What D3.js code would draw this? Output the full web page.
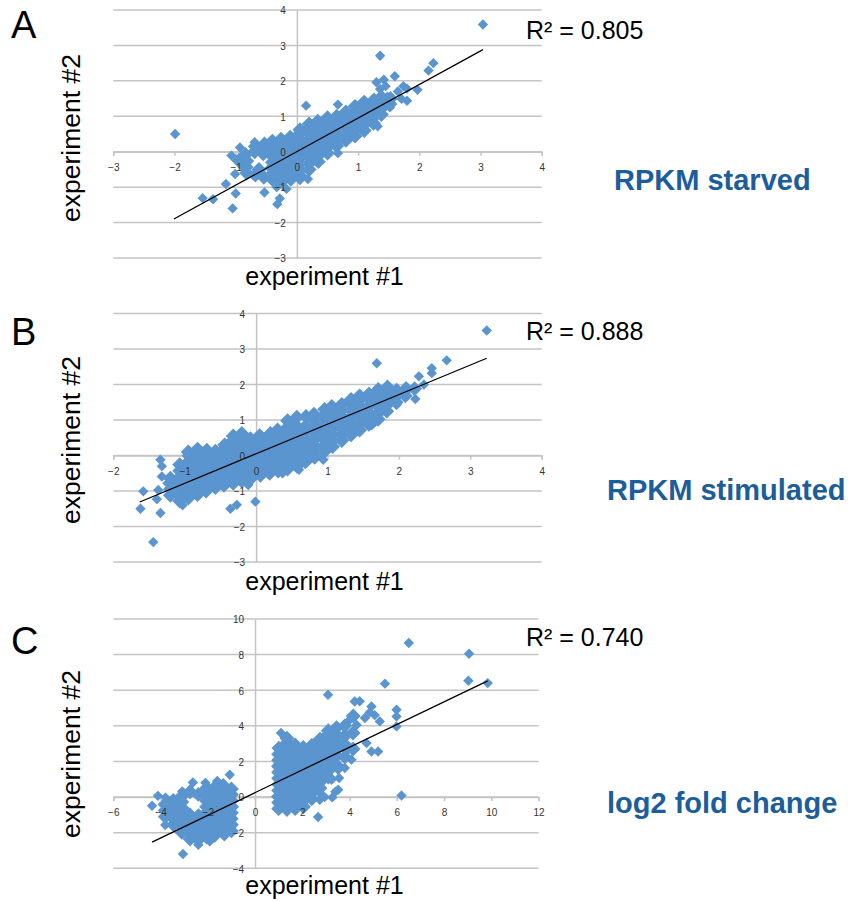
<!DOCTYPE html>
<html>
<head>
<meta charset="utf-8">
<script src="https://cdn.jsdelivr.net/npm/d3@7"></script>
<style>
body { margin: 0; background: #fff; }
svg text { font-family: "Liberation Sans", Arial, Helvetica, sans-serif; }
</style>
</head>
<body>
<script>
// values: [experiment #1, experiment #2]
// single points that stand apart
var starvedOutliers = [
  [-1.99,0.5],[-1.54,-1.31],[-1.37,-1.34],[-1.05,-1.6],[-1.0,-1.18],[-1.16,-0.91],[-0.53,-1.15],
  [-0.28,-1.32],[-0.32,-1.48],[-0.17,-1.05],[-0.33,-1.0],[-1.07,-0.11],[-0.93,0.12],[-0.69,0.27],
  [-1.01,-0.63],[-0.9,-0.4],[3.04,3.59],[1.36,2.71],[2.23,2.5],[2.15,2.29],[1.42,2.03],[1.6,2.13],
  [1.97,1.75],[1.8,1.44],[1.71,1.49],[1.74,1.85],[1.8,1.78],[1.52,1.25],[1.36,1.77],[1.38,1.6],
  [0.67,1.33],[0.15,1.3],[0.67,-0.04],[0.18,-0.77],[0.05,-0.8],[1.32,0.72],[1.65,1.7],[1.48,1.55],
  [1.3,1.96],[1.45,1.85]
];
// points packed in the dense cloud
var starvedCloud = [
  [-0.95,-0.25],[-0.84,-0.08],
  [-0.82,-0.6],[-0.83,-0.43],[-0.82,-0.26],
  [-0.68,-0.66],[-0.69,0.0],[-0.68,0.15],[-0.62,-0.5],
  [-0.54,-0.72],[-0.55,-0.06],[-0.54,0.1],[-0.53,0.22],
  [-0.4,-0.78],[-0.4,-0.62],[-0.41,-0.46],[-0.4,-0.3],[-0.39,-0.14],[-0.4,0.02],[-0.41,0.16],[-0.4,0.3],
  [-0.25,-0.84],[-0.25,-0.67],[-0.26,-0.5],[-0.25,-0.33],[-0.24,-0.16],[-0.25,0.01],[-0.25,0.18],[-0.26,0.35],
  [-0.1,-0.78],[-0.1,-0.61],[-0.11,-0.44],[-0.1,-0.27],[-0.09,-0.1],[-0.1,0.07],[-0.1,0.24],[-0.11,0.41],
  [0.05,-0.68],[0.05,-0.51],[0.04,-0.34],[0.05,-0.17],[0.06,0.0],[0.05,0.17],[0.05,0.34],[0.04,0.5],[0.05,0.62],
  [0.2,-0.5],[0.2,-0.33],[0.21,-0.16],[0.2,0.01],[0.19,0.18],[0.2,0.35],[0.2,0.52],[0.21,0.69],[0.2,0.78],
  [0.35,-0.28],[0.35,-0.11],[0.34,0.06],[0.35,0.23],[0.36,0.4],[0.35,0.57],[0.35,0.74],[0.34,0.86],
  [0.5,-0.04],[0.5,0.13],[0.51,0.3],[0.5,0.47],[0.49,0.64],[0.5,0.81],[0.5,0.96],
  [0.65,0.16],[0.65,0.33],[0.64,0.5],[0.65,0.67],[0.66,0.84],[0.65,1.0],
  [0.8,0.32],[0.8,0.49],[0.81,0.66],[0.8,0.83],[0.79,1.0],[0.8,1.12],
  [0.95,0.44],[0.95,0.61],[0.96,0.78],[0.95,0.95],[0.94,1.12],[0.95,1.28],
  [1.1,0.6],[1.1,0.77],[1.11,0.94],[1.1,1.11],[1.09,1.28],[1.1,1.4],
  [1.25,0.8],[1.25,0.97],[1.24,1.14],[1.25,1.31],[1.26,1.46],
  [1.38,1.05],[1.38,1.22],[1.39,1.39],[1.38,1.54],
  [1.52,1.35],[1.53,1.5]
];

var stimulatedOutliers = [
  [3.23,3.52],[1.69,2.6],[2.67,2.68],[2.46,2.46],[2.46,2.32],[2.28,2.23],[2.23,1.59],[1.97,1.43],
  [1.67,0.96],[1.62,0.85],[1.41,0.72],[0.94,0.25],[0.94,-0.12],[0.55,-0.26],[0.37,-0.5],[0.6,-0.4],
  [-0.11,-0.83],[-0.01,-1.3],[-0.27,-1.39],[-0.36,-1.5],[-1.44,-2.44],[-1.62,-1.5],[-1.34,-1.62],
  [-1.58,-1.01],[-1.37,-0.97],[-1.39,-1.23],[-1.34,-0.12],[-1.32,-0.3],[-1.32,-0.59],[-1.03,-1.4],
  [2.35,2.0],[2.1,1.95]
];
var stimulatedCloud = [
  [-1.2,-1.12],[-1.2,-0.95],[-1.21,-0.78],[-1.2,-0.64],
  [-1.07,-1.28],[-1.07,-1.11],[-1.08,-0.94],[-1.07,-0.77],[-1.06,-0.6],[-1.07,-0.43],[-1.07,-0.26],
  [-0.95,-1.2],[-0.95,-1.03],[-0.94,-0.86],[-0.95,-0.69],[-0.96,-0.52],[-0.95,-0.35],[-0.95,-0.18],[-0.94,-0.01],[-0.95,0.1],
  [-0.82,-1.1],[-0.82,-0.93],[-0.83,-0.76],[-0.82,-0.59],[-0.81,-0.42],[-0.82,-0.25],[-0.82,-0.08],[-0.83,0.09],[-0.82,0.18],
  [-0.7,-1.0],[-0.7,-0.83],[-0.69,-0.66],[-0.7,-0.49],[-0.71,-0.32],[-0.7,-0.15],[-0.7,0.02],[-0.69,0.15],
  [-0.57,-0.9],[-0.57,-0.73],[-0.58,-0.56],[-0.57,-0.39],[-0.56,-0.22],[-0.57,-0.05],[-0.57,0.12],
  [-0.45,-0.84],[-0.45,-0.67],[-0.44,-0.5],[-0.45,-0.33],[-0.46,-0.16],[-0.45,0.01],[-0.45,0.18],[-0.44,0.3],
  [-0.32,-0.78],[-0.32,-0.61],[-0.33,-0.44],[-0.32,-0.27],[-0.31,-0.1],[-0.32,0.07],[-0.32,0.24],[-0.33,0.41],[-0.32,0.55],
  [-0.2,-0.72],[-0.2,-0.55],[-0.19,-0.38],[-0.2,-0.21],[-0.21,-0.04],[-0.2,0.13],[-0.2,0.3],[-0.19,0.47],[-0.2,0.62],
  [-0.07,-0.64],[-0.07,-0.47],[-0.08,-0.3],[-0.07,-0.13],[-0.06,0.04],[-0.07,0.21],[-0.07,0.38],[-0.08,0.47],
  [0.06,-0.56],[0.06,-0.39],[0.05,-0.22],[0.06,-0.05],[0.07,0.12],[0.06,0.29],[0.06,0.46],[0.05,0.56],
  [0.19,-0.5],[0.19,-0.33],[0.2,-0.16],[0.19,0.01],[0.18,0.18],[0.19,0.35],[0.19,0.52],[0.2,0.62],
  [0.31,-0.44],[0.31,-0.27],[0.3,-0.1],[0.31,0.07],[0.32,0.24],[0.31,0.41],[0.31,0.58],[0.3,0.72],
  [0.44,-0.38],[0.44,-0.21],[0.45,-0.04],[0.44,0.13],[0.43,0.3],[0.44,0.47],[0.44,0.64],[0.45,0.81],[0.44,0.98],
  [0.57,-0.3],[0.57,-0.13],[0.56,0.04],[0.57,0.21],[0.58,0.38],[0.57,0.55],[0.57,0.72],[0.56,0.84],[0.57,1.08],
  [0.69,-0.18],[0.69,-0.01],[0.7,0.16],[0.69,0.33],[0.68,0.5],[0.69,0.67],[0.69,0.82],[0.7,1.1],
  [0.82,-0.05],[0.82,0.12],[0.81,0.29],[0.82,0.46],[0.83,0.63],[0.82,0.8],[0.82,0.97],[0.81,1.16],
  [0.95,0.1],[0.95,0.27],[0.96,0.44],[0.95,0.61],[0.94,0.78],[0.95,0.95],[0.95,1.12],[0.96,1.3],
  [1.07,0.25],[1.07,0.42],[1.06,0.59],[1.07,0.76],[1.08,0.93],[1.07,1.1],[1.07,1.27],[1.06,1.38],
  [1.2,0.42],[1.2,0.59],[1.21,0.76],[1.2,0.93],[1.19,1.1],[1.2,1.27],[1.2,1.44],
  [1.33,0.58],[1.33,0.75],[1.32,0.92],[1.33,1.09],[1.34,1.26],[1.33,1.43],[1.33,1.58],
  [1.45,0.72],[1.45,0.89],[1.46,1.06],[1.45,1.23],[1.44,1.4],[1.45,1.57],[1.45,1.68],
  [1.58,0.88],[1.58,1.05],[1.57,1.22],[1.58,1.39],[1.59,1.56],[1.58,1.73],
  [1.71,1.02],[1.71,1.19],[1.72,1.36],[1.71,1.53],[1.7,1.7],[1.71,1.86],
  [1.83,1.25],[1.83,1.42],[1.82,1.59],[1.83,1.76],[1.84,1.93],
  [1.96,1.5],[1.96,1.67],[1.97,1.84],
  [2.09,1.68],[2.09,1.84],
  [2.22,1.88]
];

var foldOutliers = [
  [6.51,8.65],[9.06,8.05],[9.03,6.53],[9.85,6.4],[5.5,6.37],[3.09,5.75],[4.22,5.37],[4.43,5.38],
  [4.93,5.09],[5.07,4.6],[5.28,4.25],[5.99,4.9],[5.99,4.53],[5.99,3.97],[4.65,4.44],[4.01,4.34],
  [4.72,3.03],[4.93,2.56],[5.21,2.56],[3.87,2.56],[4.08,2.1],[3.8,1.63],[3.52,1.53],[3.24,0.97],
  [3.52,0.41],[3.27,-0.02],[2.74,0.22],[2.74,-0.15],[2.67,-1.12],[6.2,0.09],[3.56,1.07],[4.3,4.05],
  [4.85,4.75],[1.1,3.6],[2.95,0.0],[3.4,0.3],
  [-4.36,-0.49],[-4.11,0.07],[-3.79,-0.03],[-3.08,0.32],[-2.63,0.82],[-1.07,1.25],[-3.75,-1.09],
  [-3.8,-1.57],[-3.05,-3.2],[-2.4,-2.68],[-1.92,-2.49],[-1.6,0.9],[-2.1,0.8],[-1.3,-2.2]
];
var foldCloud = [
  // down-regulated group
  [-1.0,-1.9],[-1.0,-1.56],[-1.01,-1.22],[-1.0,-0.88],[-0.99,-0.54],[-1.0,-0.2],[-1.0,0.14],[-1.0,0.46],
  [-1.35,-1.95],[-1.35,-1.61],[-1.34,-1.27],[-1.35,-0.93],[-1.36,-0.59],[-1.35,-0.25],[-1.35,0.09],[-1.34,0.43],[-1.35,0.65],
  [-1.7,-2.15],[-1.7,-1.81],[-1.71,-1.47],[-1.7,-1.13],[-1.69,-0.79],[-1.7,-0.45],[-1.7,-0.11],[-1.71,0.23],[-1.7,0.55],
  [-2.05,-2.25],[-2.05,-1.91],[-2.04,-1.57],[-2.05,-1.23],[-2.06,-0.89],[-2.05,-0.55],[-2.05,-0.21],[-2.04,0.13],[-2.05,0.5],
  [-2.4,-2.4],[-2.4,-2.06],[-2.41,-1.72],[-2.4,-1.38],[-2.39,-1.04],[-2.4,0.15],
  [-2.75,-2.35],[-2.75,-2.01],[-2.74,-1.67],[-2.75,-1.33],[-2.76,-0.99],[-2.75,0.3],
  [-3.1,-1.98],[-3.1,-1.64],[-3.11,-1.3],[-3.1,-0.96],[-3.09,-0.62],[-3.1,-0.28],[-3.1,0.05],
  [-3.45,-1.55],[-3.45,-1.21],[-3.44,-0.87],[-3.45,-0.53],[-3.46,-0.19],
  [-3.8,-1.1],[-3.8,-0.76],[-3.81,-0.42],
  // up-regulated group
  [1.0,-0.65],[1.0,-0.31],[0.99,0.03],[1.0,0.37],[1.01,0.71],[1.0,1.05],[1.0,1.39],[0.99,1.73],[1.0,2.07],[1.0,2.41],[1.01,2.75],
  [1.35,-0.7],[1.35,-0.36],[1.36,-0.02],[1.35,0.32],[1.34,0.66],[1.35,1.0],[1.35,1.34],[1.36,1.68],[1.35,2.02],[1.35,2.36],[1.34,2.7],[1.35,3.04],[1.35,3.3],
  [1.7,-0.65],[1.7,-0.31],[1.69,0.03],[1.7,0.37],[1.71,0.71],[1.7,1.05],[1.7,1.39],[1.69,1.73],[1.7,2.07],[1.7,2.41],[1.71,2.75],[1.7,2.92],
  [2.05,-0.55],[2.05,-0.21],[2.06,0.13],[2.05,0.47],[2.04,0.81],[2.05,1.15],[2.05,1.49],[2.06,1.83],[2.05,2.17],[2.05,2.51],[2.04,2.78],
  [2.4,-0.1],[2.4,0.24],[2.39,0.58],[2.4,0.92],[2.41,1.26],[2.4,1.6],[2.4,1.94],[2.39,2.28],[2.4,2.62],[2.4,2.9],
  [2.75,0.5],[2.75,0.84],[2.76,1.18],[2.75,1.52],[2.74,1.86],[2.75,2.2],[2.75,2.54],[2.76,2.88],[2.75,3.25],
  [3.1,1.12],[3.1,1.46],[3.09,1.8],[3.1,2.14],[3.11,2.48],[3.1,2.82],[3.1,3.16],[3.09,3.5],[3.1,3.72],
  [3.45,1.8],[3.45,2.3],[3.46,2.7],[3.45,3.1],[3.44,3.5],[3.45,3.9],
  [3.8,2.25],[3.8,2.95],[3.81,3.45],[3.8,4.0],
  [4.15,2.7],[4.15,3.6],[4.16,4.55]
];

// linear fit end points
var starvedTrend = [[-2.01,-1.9],[3.04,2.88]];
var stimulatedTrend = [[-1.63,-1.31],[3.23,2.74]];
var foldTrend = [[-4.36,-2.53],[9.85,6.53]];

var starvedXTicks = [-3,-2,-1,0,1,2,3,4];
var starvedYTicks = [-3,-2,-1,0,1,2,3,4];
var stimulatedXTicks = [-2,-1,0,1,2,3,4];
var stimulatedYTicks = [-3,-2,-1,0,1,2,3,4];
var foldXTicks = [-6,-4,-2,0,2,4,6,8,10,12];
var foldYTicks = [-4,-2,0,2,4,6,8,10];

var panelLetters = ["A","B","C"];
var panelTitles = ["RPKM starved","RPKM stimulated","log2 fold change"];
var rSquared = ["0.805","0.888","0.740"];

var panels = [
  {outliers: starvedOutliers, cloud: starvedCloud, trend: starvedTrend, xTicks: starvedXTicks, yTicks: starvedYTicks,
   left: 113.3, right: 541.7, top: 10, bottom: 258, letterY: 38, r2Y: 39, titleX: 614, titleY: 190, xLabY: 284, yLabY: 138},
  {outliers: stimulatedOutliers, cloud: stimulatedCloud, trend: stimulatedTrend, xTicks: stimulatedXTicks, yTicks: stimulatedYTicks,
   left: 113.3, right: 541.7, top: 313.5, bottom: 562, letterY: 345, r2Y: 340, titleX: 607, titleY: 500, xLabY: 589, yLabY: 440},
  {outliers: foldOutliers, cloud: foldCloud, trend: foldTrend, xTicks: foldXTicks, yTicks: foldYTicks,
   left: 113.3, right: 538.5, top: 619, bottom: 868.3, letterY: 654, r2Y: 646, titleX: 607, titleY: 813, xLabY: 893, yLabY: 754}
];

var svg = d3.select("body").append("svg").attr("width",848).attr("height",901);

var gridColor = "#c4c4c4";
var dotColor = "#5a95cf";
var diamond = d3.symbol(d3.symbolSquare,54);

panels.forEach(function(p,i){
  var x = d3.scaleLinear().domain([p.xTicks[0], p.xTicks[p.xTicks.length-1]]).range([p.left, p.right]);
  var y = d3.scaleLinear().domain([p.yTicks[0], p.yTicks[p.yTicks.length-1]]).range([p.bottom, p.top]);
  var g = svg.append("g");

  // horizontal gridlines
  g.selectAll("line.grid")
      .data(p.yTicks)
      .enter().append("line")
      .attr("class","grid")
      .attr("x1",p.left)
      .attr("x2",p.right)
      .attr("y1",function(d){return y(d);})
      .attr("y2",function(d){return y(d);})
      .attr("stroke",gridColor)
      .attr("stroke-width",1.5);

  var xAxis = d3.axisBottom(x).tickValues(p.xTicks).tickFormat(d3.format("d")).tickSize(4).tickPadding(8);
  var yAxis = d3.axisLeft(y).tickValues(p.yTicks).tickFormat(d3.format("d")).tickSize(0).tickPadding(11);

  // axis lines under the points
  var xLines = g.append("g").attr("transform","translate(0,"+y(0)+")").call(xAxis);
  xLines.selectAll("text").remove();
  var yLines = g.append("g").attr("transform","translate("+x(0)+",0)").call(yAxis);
  yLines.selectAll("text").remove();
  g.selectAll(".domain, .tick line").attr("stroke",gridColor).attr("stroke-width",1.5);

  // cloud points (overlapping markers, drawn with a same-colour edge so they merge)
  g.selectAll("path.cloud")
      .data(p.cloud)
      .enter().append("path")
      .attr("class","cloud")
      .attr("d",diamond)
      .attr("transform",function(d){return "translate("+x(d[0])+","+y(d[1])+") rotate(45)";})
      .attr("fill",dotColor)
      .attr("stroke",dotColor)
      .attr("stroke-width",3.2);

  g.selectAll("path.pt")
      .data(p.outliers)
      .enter().append("path")
      .attr("class","pt")
      .attr("d",diamond)
      .attr("transform",function(d){return "translate("+x(d[0])+","+y(d[1])+") rotate(45)";})
      .attr("fill",dotColor);

  // trend line
  g.append("line")
      .attr("x1",x(p.trend[0][0]))
      .attr("y1",y(p.trend[0][1]))
      .attr("x2",x(p.trend[1][0]))
      .attr("y2",y(p.trend[1][1]))
      .attr("stroke","#000")
      .attr("stroke-width",1.3);

  // tick labels on top
  var xLabels = g.append("g").attr("transform","translate(0,"+y(0)+")").call(xAxis);
  xLabels.selectAll(".domain, .tick line").remove();
  var yLabels = g.append("g").attr("transform","translate("+x(0)+",0)").call(yAxis);
  yLabels.selectAll(".domain, .tick line").remove();
  yLabels.selectAll("text").attr("dy","0.38em");
  g.selectAll(".tick text")
      .attr("font-size",10)
      .attr("fill","#333")
      .style("font-family","'Liberation Sans', Arial, sans-serif");

  // texts
  svg.append("text").text(panelLetters[i])
      .attr("x",11)
      .attr("y",p.letterY)
      .attr("font-size",38)
      .attr("fill","#000");

  svg.append("text").text("R\u00B2 = "+rSquared[i])
      .attr("x",526)
      .attr("y",p.r2Y)
      .attr("font-size",25)
      .attr("fill","#000");

  svg.append("text").text(panelTitles[i])
      .attr("x",p.titleX)
      .attr("y",p.titleY)
      .attr("font-size",29)
      .attr("font-weight","bold")
      .attr("fill","#1c5d9b");

  svg.append("text").text("experiment #1")
      .attr("x",324.5)
      .attr("y",p.xLabY + 1)
      .attr("text-anchor","middle")
      .attr("font-size",25)
      .attr("fill","#000");

  svg.append("text").text("experiment #2")
      .attr("transform","translate(80,"+p.yLabY+") rotate(-90)")
      .attr("text-anchor","middle")
      .attr("font-size",26.5)
      .attr("fill","#000");
});
</script>
</body>
</html>
